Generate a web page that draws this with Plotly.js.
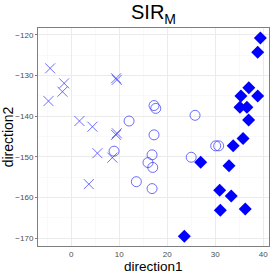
<!DOCTYPE html>
<html>
<head>
<meta charset="utf-8">
<script src="https://cdn.plot.ly/plotly-3.0.1.min.js"></script>
<style>html,body{margin:0;padding:0;background:#fff;}#chart{width:274px;height:274px;}</style>
</head>
<body>
<div id="chart"></div>
<script>
const crossX = [-4.37, -1.46, -1.81, -4.72, 9.36, 9.5, 1.73, 4.43, 9.5, 9.36, 5.47, 8.59, 3.68];
const crossY = [-128.25, -131.94, -134.0, -136.3, -130.7, -131.1, -141.2, -142.6, -144.2, -144.6, -149.1, -150.2, -156.7];
const circleX = [17.26, 17.62, 12.06, 25.8, 17.26, 8.94, 16.85, 16.0, 16.99, 13.58, 16.85, 25.0, 30.1, 30.72];
const circleY = [-137.4, -138.1, -141.2, -139.8, -144.6, -148.6, -149.5, -151.4, -152.6, -156.1, -157.8, -150.1, -147.3, -147.3];
const diamondX = [39.4, 38.84, 37.0, 35.36, 38.84, 35.15, 36.6, 36.96, 35.8, 33.74, 26.98, 32.87, 30.93, 33.34, 31.06, 36.26, 23.57];
const diamondY = [-120.8, -124.3, -133.0, -135.05, -135.05, -137.8, -137.8, -140.95, -145.5, -147.3, -151.3, -152.2, -158.2, -159.6, -163.1, -162.8, -169.5];
const xTicks = [0, 10, 20, 30, 40];
const yTicks = [-170, -160, -150, -140, -130, -120];

const traces = [
  {x: crossX, y: crossY, mode: 'markers', type: 'scatter',
   marker: {symbol: 'x-thin-open', size: 10, color: 'rgba(60,60,255,0.75)', line: {width: 1, color: 'rgba(60,60,255,0.75)'}}},
  {x: circleX, y: circleY, mode: 'markers', type: 'scatter',
   marker: {symbol: 'circle-open', size: 10, color: 'rgba(60,60,255,0.75)', line: {width: 1, color: 'rgba(60,60,255,0.75)'}}},
  {x: diamondX, y: diamondY, mode: 'markers', type: 'scatter',
   marker: {symbol: 'diamond', size: 10, color: '#0000ff'}}
];

const axisCommon = {
  showgrid: true, gridcolor: '#ebebeb', gridwidth: 1,
  zeroline: false, showline: true, mirror: true, linecolor: '#7f7f7f', linewidth: 1,
  ticks: 'outside', ticklen: 2, tickcolor: '#7f7f7f',
  tickfont: {family: 'Liberation Sans, Arial, sans-serif', size: 8, color: '#4d4d4d'},
  minor: {dtick: 5, showgrid: true, gridcolor: '#f4f4f4', gridwidth: 0.5}
};

const layout = {
  width: 274, height: 274,
  margin: {l: 38, r: 5, t: 28, b: 28},
  paper_bgcolor: '#fff', plot_bgcolor: '#fff',
  showlegend: false,
  title: {text: 'SIR<sub>M</sub>', x: 0.5, xref: 'paper', y: 0.955, yanchor: 'middle',
          font: {family: 'Liberation Sans, Arial, sans-serif', size: 20, color: '#000'}},
  xaxis: Object.assign({}, axisCommon, {
    range: [-6.9, 41.2], tickvals: xTicks, ticktext: xTicks.map(String), ticklen: 0, ticks: ''
  }),
  yaxis: Object.assign({}, axisCommon, {
    range: [-171.9, -118.35], tickvals: yTicks, ticktext: yTicks.map(v => '\u2212' + Math.abs(v)),
    title: {text: 'direction2', standoff: 2, font: {family: 'Liberation Sans, Arial, sans-serif', size: 14, color: '#000'}}
  }),
  annotations: [{
    text: 'direction1', xref: 'paper', yref: 'paper', x: 0.5, y: 0,
    xanchor: 'center', yanchor: 'middle', yshift: -20, showarrow: false,
    font: {family: 'Liberation Sans, Arial, sans-serif', size: 13.5, color: '#000'}
  }]
};

Plotly.newPlot('chart', traces, layout, {displayModeBar: false, staticPlot: true});
</script>
</body>
</html>
